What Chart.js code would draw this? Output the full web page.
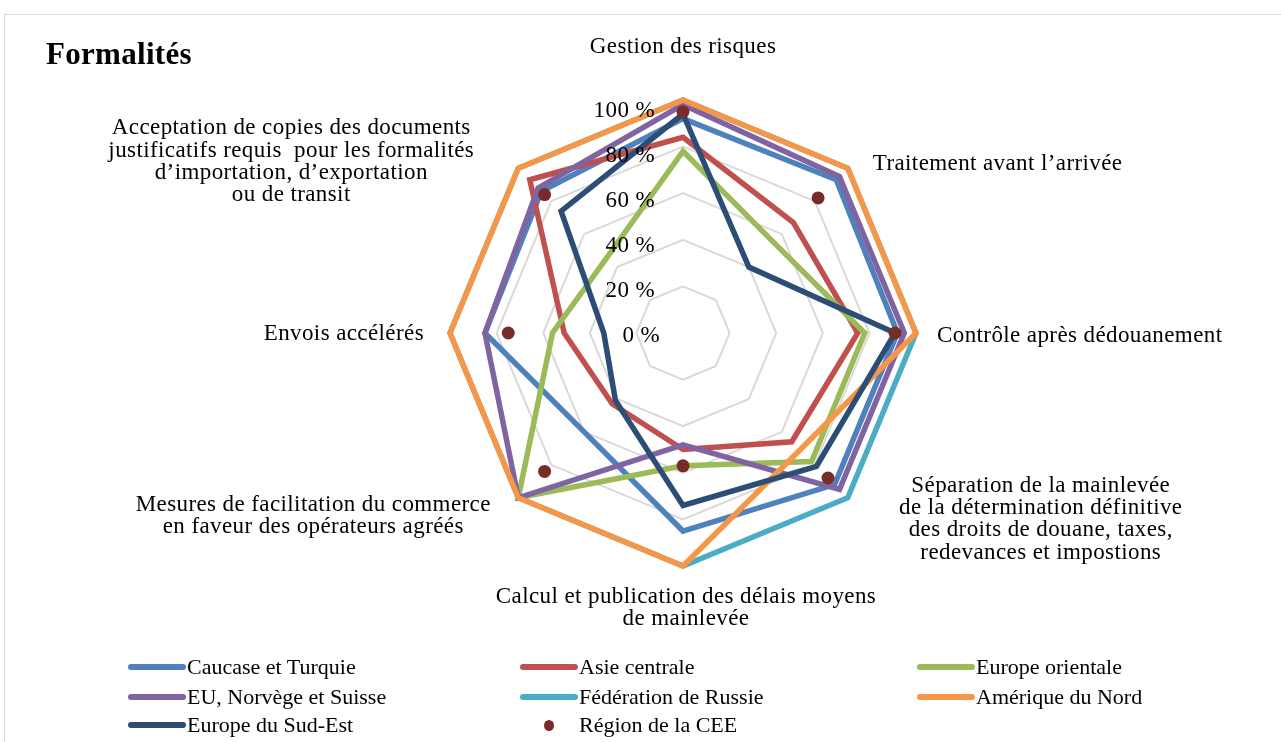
<!DOCTYPE html>
<html lang="fr">
<head>
<meta charset="utf-8">
<title>Formalités</title>
<script src="https://cdn.jsdelivr.net/npm/chart.js@4.4.1/dist/chart.umd.min.js"></script>
<style>
  html, body { margin: 0; padding: 0; background: #fff; }
  body { width: 1281px; height: 742px; position: relative; overflow: hidden;
         font-family: 'Liberation Serif', 'Times New Roman', serif; color: #000; }
  #frame { position: absolute; left: 4px; top: 14px; width: 1300px; height: 760px;
           border: 1px solid #d9d9d9; box-sizing: border-box; }
  #chart { position: absolute; left: 0; top: 0; }
  #title { position: absolute; left: 46px; top: 38px; font-weight: bold; font-size: 31px;
           line-height: 31px; letter-spacing: 0.3px; }
  .item { position: absolute; height: 30px; display: flex; align-items: center;
          font-size: 22px; line-height: 30px; white-space: nowrap; }
  .mark { width: 58px; height: 6px; border-radius: 3px; margin-right: 1px; }
  .dot { width: 58px; height: 30px; margin-right: 1px; display: flex; align-items: center; justify-content: center; }
  .dot span { width: 10px; height: 11px; border-radius: 50%; display: block; }
</style>
</head>
<body>
<div id="frame"></div>
<canvas id="chart" width="1281" height="742"></canvas>
<div id="title">Formalités</div>
<div id="legend"></div>
<script>
// axes, clockwise from the top
const axes = [
  ['Gestion des risques'],
  ['Traitement avant l’arrivée'],
  ['Contrôle après dédouanement'],
  ['Séparation de la mainlevée', 'de la détermination définitive', 'des droits de douane, taxes,', 'redevances et impostions'],
  ['Calcul et publication des délais moyens', 'de mainlevée'],
  ['Mesures de facilitation du commerce', 'en faveur des opérateurs agréés'],
  ['Envois accélérés'],
  ['Acceptation de copies des documents', 'justificatifs requis  pour les formalités', 'd’importation, d’exportation', 'ou de transit']
];
const tickValues = [0, 20, 40, 60, 80, 100];

const caucase   = [92, 93, 92, 92, 85, 60, 85, 86];
const asieCentrale = [84, 67, 75, 66, 50, 43, 51, 93];
const europeOrientale = [78, 55, 78, 78, 57, 100, 56, 46];
const euNorvegeSuisse = [98, 95, 95, 95, 48, 100, 85, 88];
const russie    = [100, 100, 100, 100, 100, 100, 100, 100];
const ameriqueNord = [100, 100, 100, 71, 100, 100, 100, 100];
const europeSudEst = [94, 40, 91, 81, 74, 41, 34, 74];
const regionCEE = [95, 82, 91, 88, 57, 84, 75, 84];

const seriesNames = ['Caucase et Turquie', 'Asie centrale', 'Europe orientale',
  'EU, Norvège et Suisse', 'Fédération de Russie', 'Amérique du Nord',
  'Europe du Sud-Est', 'Région de la CEE'];
const seriesValues = [caucase, asieCentrale, europeOrientale, euNorvegeSuisse,
  russie, ameriqueNord, europeSudEst, regionCEE];

// styling
const colors = ['#4F81BD', '#C0504D', '#9BBB59', '#8064A2', '#4BACC6', '#F79646', '#2C4D75', '#772C2A'];
const serif = '"Liberation Serif", "Times New Roman", serif';

// where each axis label sits, relative to its 100 % vertex
const labelPlace = [
  { align: 'center', dx: 0, dy: -47 },
  { align: 'left', dx: 25, dy: 2 },
  { align: 'left', dx: 21, dy: 9 },
  { align: 'center', dx: 193, dy: -6 },
  { align: 'center', dx: 3, dy: 37 },
  { align: 'center', dx: -205, dy: 13 },
  { align: 'right', dx: -26, dy: 7 },
  { align: 'center', dx: -227, dy: -34 }
];

const n = seriesNames.length;
const datasets = seriesNames.map((name, i) => {
  const isDot = i === n - 1;
  return {
    label: name,
    data: seriesValues[i],
    borderColor: colors[i],
    backgroundColor: 'transparent',
    borderWidth: isDot ? 0 : 5.5,
    showLine: !isDot,
    fill: false,
    pointRadius: isDot ? 6.5 : 0,
    pointHoverRadius: isDot ? 6.5 : 0,
    pointBackgroundColor: colors[i],
    pointBorderWidth: 0,
    order: n - i,   // later series on top, like the original
    clip: false
  };
});

const axisText = {
  id: 'axisText',
  afterDatasetsDraw(chart) {
    const r = chart.scales.r;
    const ctx = chart.ctx;
    ctx.save();
    ctx.fillStyle = '#000';
    ctx.font = '23px ' + serif;
    ctx.letterSpacing = '0.4px';
    ctx.textBaseline = 'alphabetic';

    // tick labels sit a little tighter than the rings in the original
    ctx.textAlign = 'right';
    r.ticks.forEach(t => {
      const y = r.yCenter - r.getDistanceFromCenterForValue(t.value) * 0.965;
      ctx.fillText(t.value + ' %', r.xCenter - (t.value === 0 ? 23 : 28), y + 9);
    });

    axes.forEach((lines, i) => {
      const p = r.getPointPosition(i, r.drawingArea);
      const o = labelPlace[i];
      ctx.textAlign = o.align;
      lines.forEach((s, k) => ctx.fillText(s, p.x + o.dx, p.y + o.dy + k * 22.3));
    });
    ctx.restore();
  }
};

new Chart(document.getElementById('chart'), {
  type: 'radar',
  data: { labels: axes, datasets: datasets },
  options: {
    responsive: false,
    animation: false,
    events: [],
    layout: { padding: { left: 450, right: 365, top: 100, bottom: 176 } },
    plugins: { legend: { display: false }, tooltip: { enabled: false }, title: { display: false } },
    elements: { line: { tension: 0, borderJoinStyle: 'miter' } },
    scales: {
      r: {
        min: 0,
        max: 100,
        ticks: { stepSize: 20, display: false },
        afterBuildTicks(scale) { scale.ticks = tickValues.map(v => ({ value: v })); },
        grid: { color: '#d9d9d9', lineWidth: 2 },
        angleLines: { display: false },
        pointLabels: { display: false }
      }
    }
  },
  plugins: [axisText]
});

// legend, three columns like the original
const legend = document.getElementById('legend');
const colX = [128, 520, 917];
const rowY = [667, 697, 725];
seriesNames.forEach((name, i) => {
  const item = document.createElement('div');
  item.className = 'item';
  item.style.left = colX[i % 3] + 'px';
  item.style.top = (rowY[Math.floor(i / 3)] - 15) + 'px';
  let mark;
  if (i === n - 1) {
    mark = document.createElement('div');
    mark.className = 'dot';
    const s = document.createElement('span');
    s.style.background = colors[i];
    mark.appendChild(s);
  } else {
    mark = document.createElement('div');
    mark.className = 'mark';
    mark.style.background = colors[i];
  }
  item.appendChild(mark);
  const t = document.createElement('span');
  t.textContent = name;
  item.appendChild(t);
  legend.appendChild(item);
});
</script>
</body>
</html>
